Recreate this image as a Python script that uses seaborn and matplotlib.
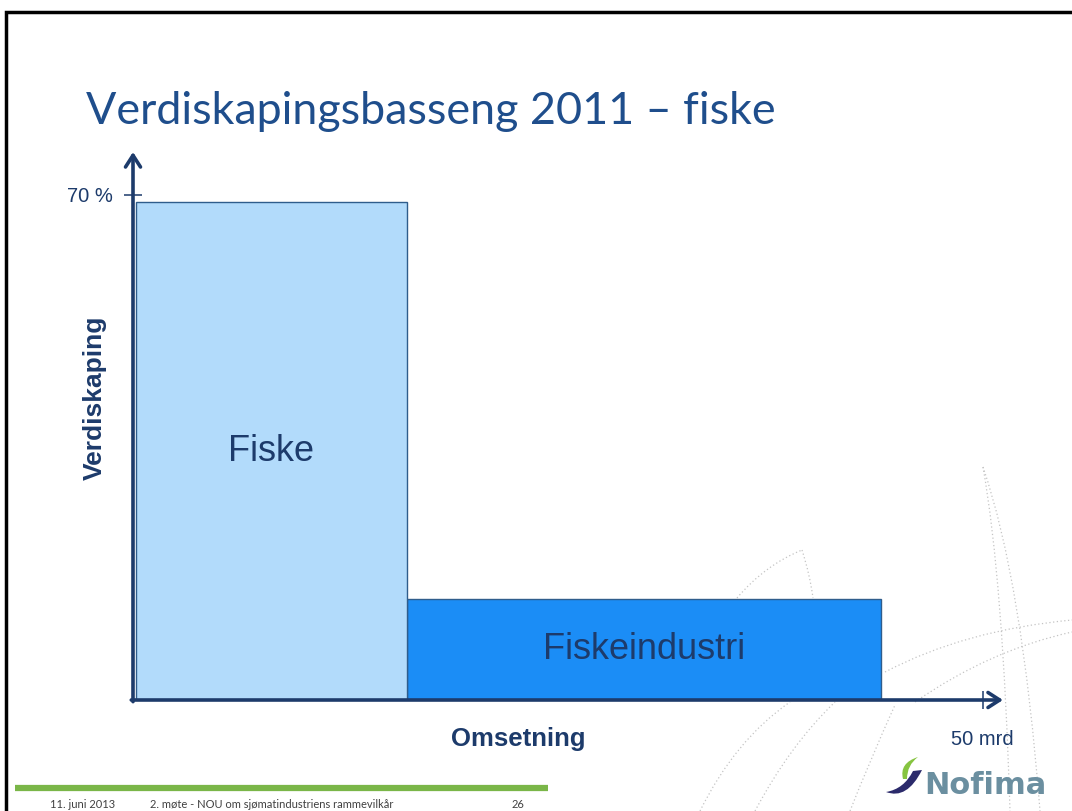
"""
Verdiskapingsbasseng 2011 - fiske: variable-width bars (omsetning x verdiskaping).
"""

import numpy as np
import pandas as pd
import seaborn as sns
import matplotlib.pyplot as plt
from matplotlib.path import Path
from matplotlib.patches import PathPatch

# Data
segments = ["Fiske", "Fiskeindustri"]
omsetning = [16, 28]  # mrd kr, bar widths
verdiskaping = [69, 14]  # %, bar heights
x_ticks = [50]
x_tick_labels = ["50 mrd"]
y_ticks = [70]
y_tick_labels = ["70 %"]

# Style
segment_colors = ["#b2dbfb", "#1b8df6"]
NAVY = "#1d3b6b"
TITLE_BLUE = "#1f4e8c"
W, H = 1072, 811


def bezier(ax, p0, p1, p2, **kw):
    """Quadratic bezier curve in pixel coords."""
    path = Path([p0, p1, p2], [Path.MOVETO, Path.CURVE3, Path.CURVE3])
    ax.add_patch(PathPatch(path, fill=False, **kw))


def draw_background(bg):
    # slide border
    bg.plot([6, 6, W], [H, 12, 12], color="black", lw=2.5, solid_joinstyle="miter")

    # faint dotted decoration arcs
    deco = dict(edgecolor="#c4c4c4", lw=0.9, linestyle=(0, (1, 2)))
    bezier(bg, (983, 467), (1003, 580), (1010, 811), **deco)
    bezier(bg, (983, 467), (1022, 580), (1040, 811), **deco)
    bezier(bg, (885, 672), (965, 630), (1072, 620), **deco)
    bezier(bg, (915, 702), (990, 650), (1072, 632), **deco)
    bezier(bg, (737, 598), (765, 565), (802, 550), **deco)
    bezier(bg, (802, 550), (810, 575), (813, 598), **deco)
    bezier(bg, (700, 811), (735, 740), (790, 702), **deco)
    bezier(bg, (755, 811), (790, 745), (835, 702), **deco)
    bezier(bg, (850, 811), (870, 760), (895, 705), **deco)

    # title
    bg.text(86, 124, "Verdiskapingsbasseng 2011 \u2013 fiske", fontsize=32.3,
            color=TITLE_BLUE, fontfamily="Lato", va="baseline", ha="left")

    # footer
    bg.plot([15, 548], [788, 788], color="#7ab648", lw=4.5, solid_capstyle="butt")
    foot = dict(fontsize=8, color="#404040", fontfamily="Lato", va="center")
    bg.text(50, 805, "11. juni 2013", **foot)
    bg.text(150, 805, "2. m\u00f8te - NOU om sj\u00f8matindustriens rammevilk\u00e5r", **foot)
    bg.text(512, 805, "26", **foot)

    # Nofima logo
    swoosh = Path(
        [(886, 792), (907, 800), (922, 770), (913, 771), (904, 789), (886, 792)],
        [Path.MOVETO, Path.CURVE3, Path.CURVE3, Path.LINETO, Path.CURVE3, Path.CURVE3],
    )
    bg.add_patch(PathPatch(swoosh, facecolor="#2b2a6b", edgecolor="none"))
    leaf = Path(
        [(903, 779), (899, 763), (918, 757), (907, 765), (907, 779), (903, 779)],
        [Path.MOVETO, Path.CURVE3, Path.CURVE3, Path.CURVE3, Path.CURVE3, Path.CLOSEPOLY],
    )
    bg.add_patch(PathPatch(leaf, facecolor="#86c440", edgecolor="none"))
    bg.text(924, 785, "Nofima", fontsize=22, fontweight="bold", color="#6b8fa0",
            fontfamily="DejaVu Sans", va="center", ha="left")


def main():
    sns.set_theme(style="white")
    plt.rcParams["font.family"] = ["Liberation Sans", "DejaVu Sans"]

    fig = plt.figure(figsize=(W / 100, H / 100), dpi=100)

    bg = fig.add_axes([0, 0, 1, 1], zorder=0)
    bg.set_xlim(0, W)
    bg.set_ylim(H, 0)
    bg.axis("off")
    draw_background(bg)

    # axis box: x 133..1003 px, y 152..700 px
    ax = fig.add_axes([133 / W, (H - 700) / H, 870 / W, 548 / H], zorder=1)
    ax.patch.set_alpha(0)

    edges = [0] + list(np.cumsum(omsetning).astype(float))
    mids = [(a + b) / 2 for a, b in zip(edges[:-1], edges[1:])]
    df = pd.DataFrame({"segment": segments, "mid": mids, "verdiskaping": verdiskaping})

    sns.histplot(
        data=df, x="mid", weights="verdiskaping", hue="segment",
        hue_order=segments, palette=dict(zip(segments, segment_colors)),
        bins=edges, alpha=1, edgecolor="#2f5d8c", linewidth=1.0,
        legend=False, ax=ax,
    )

    ax.set_xlim(-0.15, 51.2)
    ax.set_ylim(0, 75.96)
    sns.despine(ax=ax, left=True, bottom=True)
    ax.set_xlabel("")
    ax.set_ylabel("")

    # axis arrows
    arrow = dict(arrowstyle="->,head_length=0.7,head_width=0.45", color=NAVY,
                 lw=2.6, shrinkA=0, shrinkB=0)
    ax.annotate("", xy=(1, 0), xytext=(-0.002, 0), xycoords="axes fraction",
                arrowprops=arrow, annotation_clip=False)
    ax.annotate("", xy=(0, 1), xytext=(0, -0.003), xycoords="axes fraction",
                arrowprops=arrow, annotation_clip=False)

    ax.set_xticks(x_ticks, x_tick_labels)
    ax.set_yticks(y_ticks, y_tick_labels)
    ax.tick_params(axis="both", direction="inout", length=13, width=1.1,
                   colors=NAVY, labelsize=14.5, labelcolor=NAVY)
    ax.tick_params(axis="x", pad=15, bottom=True)
    ax.tick_params(axis="y", pad=8, left=True)
    for lbl in ax.get_xticklabels():
        lbl.set_horizontalalignment("left")
        lbl.set_x(lbl.get_position()[0])
    ax.xaxis.get_major_ticks()[0].label1.set_ha("center")

    # bar labels at bar centers
    for seg, m, h in zip(segments, mids, verdiskaping):
        ax.text(m, h / 2, seg, fontsize=26, color=NAVY, ha="center", va="center")

    # axis titles
    bg.text(95, 398, "Verdiskaping", fontsize=19, fontweight="bold", color=NAVY,
            rotation=90, ha="center", va="center")
    bg.text(518, 739, "Omsetning", fontsize=18.5, fontweight="bold", color=NAVY,
            ha="center", va="center")

    fig.savefig("out.png", dpi=100)
    plt.close(fig)


if __name__ == "__main__":
    main()
